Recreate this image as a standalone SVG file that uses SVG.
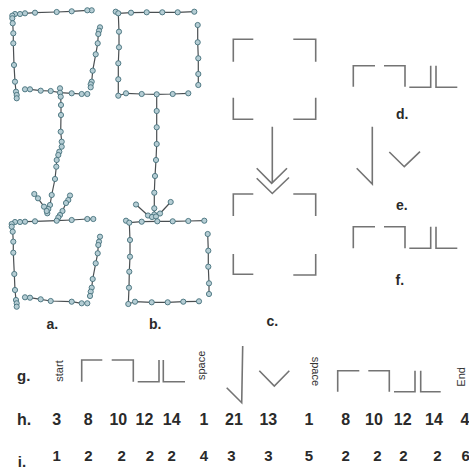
<svg xmlns="http://www.w3.org/2000/svg" width="469" height="470" viewBox="0 0 469 470">
<style>
.ln{fill:none;stroke:#4a4f52;stroke-width:1.2;stroke-linejoin:round}
.p{fill:#b5cdd4;stroke:#45707c;stroke-width:0.9}
.br{fill:none;stroke:#747474;stroke-width:1.6;stroke-linecap:butt}
.lb{font-family:"Liberation Sans",Arial,sans-serif;font-weight:bold;fill:#2a2a2a}
.rt{font-family:"Liberation Sans",Arial,sans-serif;font-size:11px;fill:#333}
</style>
<defs>
<circle id="c" r="2.6" class="p"/>
</defs>
<rect width="469" height="470" fill="#fff"/>

<g id="connectors">
<!-- panel a -->
<polyline class="ln" points="91.7,10.3 87.3,10.3 71.7,11.3 56.7,12 35,12.7 25,13.3 20,14 15,14 12.3,15.7 12.3,18.3 12.7,23.3 13.3,33.3 13.3,43.3 14,65 15,81.7 16,91.7 16.7,95 16.7,98.3"/>
<polyline class="ln" points="100,27.3 99,30.7 98.3,34 97.7,43.3 95.7,54.3 92.7,70.7 91.7,81.7 90.7,84.3 90.7,87.3"/>
<polyline class="ln" points="25,89.3 30,89.3 40.7,90.7 50.7,91 60,92.7 71.7,93.3 81.7,94 87.3,94"/>
<polyline class="ln" points="60,88.3 60,92.7 60.7,96.7 61,105 61,115 60.7,131.7 61.7,141.7 61.7,146.7 59.3,151.7 58.3,155 56.7,160 56.3,166.7 55,179 51.7,195 50,205 48.3,209 47.3,213.3"/>
<polyline class="ln" points="34.3,194 38,198.3 44,206.7 46.7,211 48,213.3"/>
<polyline class="ln" points="70,195.5 68.3,200 66,203 62.5,211 60,215 58.3,217.5 56.7,220.7"/>
<polyline class="ln" points="93.3,219 87.3,219 71.7,220 56.7,220.7 35,221.3 25,221.7 20,222 15,222 11.7,224 11.7,226.7 12.7,231.7 13.3,241.7 13.3,252.7 14.3,274 15,290 16,300 16.7,303.3 16.7,306.7"/>
<polyline class="ln" points="100,236.7 99,241.7 98.3,245 97.7,253.3 95.7,263.3 92.7,279 91.7,287.7 90.7,291.7 90,296"/>
<polyline class="ln" points="25,297.3 30,297.7 40.7,299.3 50.7,301 71.7,301.7 81.7,303.3 87.3,303.3"/>
<!-- panel b -->
<polyline class="ln" points="194.3,11.7 177.7,12.3 162.3,12.3 146.7,12.3 131,12.7 118.3,13.3 119,31.7 119,47.3 118.3,63.3 118.3,79.3 118.3,95.7 126,93.3 141.7,94 156.7,94.3 172.7,94 188.3,93.3"/>
<polyline class="ln" points="115.7,11.7 118.3,13.3"/>
<polyline class="ln" points="197.7,25 197.7,42.3 198.3,58.3 198.3,74 198.3,85"/>
<polyline class="ln" points="156.7,94.3 156.7,111 156.7,127.3 156.7,144 156,160 155,176 154.3,192.7 154.3,208.3 154.3,214.5 156,221.3"/>
<polyline class="ln" points="136,204.5 148,215.5 152,217"/>
<polyline class="ln" points="170.7,202 160,213.5 156,216.5"/>
<polyline class="ln" points="204.3,220.7 188.3,221 172.7,221.3 157.3,221.3 141.7,221.7 129.3,222.7 130,240 130,256.7 129.3,271.7 129,287.7 128.3,304 135,301.7 151.7,302.3 167.7,302.3 183.3,301.7 199,301.3"/>
<polyline class="ln" points="126,220.7 129.3,222.7"/>
<polyline class="ln" points="207.7,234 208.3,250.7 208.3,266.7 209,283.3 209,294"/>
</g>

<g id="nodes-a">
<use href="#c" x="91.7" y="10.3"/><use href="#c" x="87.3" y="10.3"/><use href="#c" x="71.7" y="11.3"/><use href="#c" x="56.7" y="12"/><use href="#c" x="35" y="12.7"/><use href="#c" x="25" y="13.3"/><use href="#c" x="20" y="14"/><use href="#c" x="15" y="14"/><use href="#c" x="12.3" y="15.7"/><use href="#c" x="12.3" y="18.3"/><use href="#c" x="12.7" y="23.3"/><use href="#c" x="13.3" y="33.3"/><use href="#c" x="13.3" y="43.3"/><use href="#c" x="14" y="65"/><use href="#c" x="15" y="81.7"/><use href="#c" x="16" y="91.7"/><use href="#c" x="16.7" y="95"/><use href="#c" x="16.7" y="98.3"/>
<use href="#c" x="100" y="27.3"/><use href="#c" x="99" y="30.7"/><use href="#c" x="98.3" y="34"/><use href="#c" x="97.7" y="43.3"/><use href="#c" x="95.7" y="54.3"/><use href="#c" x="92.7" y="70.7"/><use href="#c" x="91.7" y="81.7"/><use href="#c" x="90.7" y="84.3"/><use href="#c" x="90.7" y="87.3"/>
<use href="#c" x="25" y="89.3"/><use href="#c" x="30" y="89.3"/><use href="#c" x="40.7" y="90.7"/><use href="#c" x="50.7" y="91"/><use href="#c" x="71.7" y="93.3"/><use href="#c" x="81.7" y="94"/><use href="#c" x="87.3" y="94"/>
<use href="#c" x="60" y="88.3"/><use href="#c" x="60" y="92.7"/><use href="#c" x="60.7" y="96.7"/><use href="#c" x="61" y="105"/><use href="#c" x="61" y="115"/><use href="#c" x="60.7" y="131.7"/><use href="#c" x="61.7" y="141.7"/><use href="#c" x="61.7" y="146.7"/><use href="#c" x="59.3" y="151.7"/><use href="#c" x="58.3" y="155"/><use href="#c" x="56.7" y="160"/><use href="#c" x="56.3" y="166.7"/><use href="#c" x="55" y="179"/><use href="#c" x="51.7" y="195"/><use href="#c" x="50" y="205"/><use href="#c" x="48.3" y="209"/><use href="#c" x="47.3" y="213.3"/>
<use href="#c" x="34.3" y="194"/><use href="#c" x="38" y="198.3"/><use href="#c" x="44" y="206.7"/><use href="#c" x="46.7" y="211"/>
<use href="#c" x="70" y="195.5"/><use href="#c" x="68.3" y="200"/><use href="#c" x="66" y="203"/><use href="#c" x="62.5" y="211"/><use href="#c" x="60" y="215"/><use href="#c" x="58.3" y="217.5"/>
<use href="#c" x="93.3" y="219"/><use href="#c" x="87.3" y="219"/><use href="#c" x="71.7" y="220"/><use href="#c" x="56.7" y="220.7"/><use href="#c" x="35" y="221.3"/><use href="#c" x="25" y="221.7"/><use href="#c" x="20" y="222"/><use href="#c" x="15" y="222"/><use href="#c" x="11.7" y="224"/><use href="#c" x="11.7" y="226.7"/><use href="#c" x="12.7" y="231.7"/><use href="#c" x="13.3" y="241.7"/><use href="#c" x="13.3" y="252.7"/><use href="#c" x="14.3" y="274"/><use href="#c" x="15" y="290"/><use href="#c" x="16" y="300"/><use href="#c" x="16.7" y="303.3"/><use href="#c" x="16.7" y="306.7"/>
<use href="#c" x="100" y="236.7"/><use href="#c" x="99" y="241.7"/><use href="#c" x="98.3" y="245"/><use href="#c" x="97.7" y="253.3"/><use href="#c" x="95.7" y="263.3"/><use href="#c" x="92.7" y="279"/><use href="#c" x="91.7" y="287.7"/><use href="#c" x="90.7" y="291.7"/><use href="#c" x="90" y="296"/>
<use href="#c" x="25" y="297.3"/><use href="#c" x="30" y="297.7"/><use href="#c" x="40.7" y="299.3"/><use href="#c" x="50.7" y="301"/><use href="#c" x="71.7" y="301.7"/><use href="#c" x="81.7" y="303.3"/><use href="#c" x="87.3" y="303.3"/>
<text class="lb" x="46.5" y="329" font-size="14">a.</text>
</g>

<g id="nodes-b">
<use href="#c" x="194.3" y="11.7"/><use href="#c" x="177.7" y="12.3"/><use href="#c" x="162.3" y="12.3"/><use href="#c" x="146.7" y="12.3"/><use href="#c" x="131" y="12.7"/><use href="#c" x="115.7" y="11.7"/><use href="#c" x="118.3" y="13.3"/><use href="#c" x="119" y="31.7"/><use href="#c" x="119" y="47.3"/><use href="#c" x="118.3" y="63.3"/><use href="#c" x="118.3" y="79.3"/><use href="#c" x="118.3" y="95.7"/><use href="#c" x="126" y="93.3"/><use href="#c" x="141.7" y="94"/><use href="#c" x="156.7" y="94.3"/><use href="#c" x="172.7" y="94"/><use href="#c" x="188.3" y="93.3"/>
<use href="#c" x="197.7" y="25"/><use href="#c" x="197.7" y="42.3"/><use href="#c" x="198.3" y="58.3"/><use href="#c" x="198.3" y="74"/><use href="#c" x="198.3" y="85"/>
<use href="#c" x="156.7" y="111"/><use href="#c" x="156.7" y="127.3"/><use href="#c" x="156.7" y="144"/><use href="#c" x="156" y="160"/><use href="#c" x="155" y="176"/><use href="#c" x="154.3" y="192.7"/><use href="#c" x="154.3" y="208.3"/><use href="#c" x="154.3" y="214.5"/>
<use href="#c" x="136" y="204.5"/><use href="#c" x="148" y="215.5"/><use href="#c" x="152" y="217"/><use href="#c" x="170.7" y="202"/><use href="#c" x="160" y="213.5"/><use href="#c" x="156" y="216.5"/>
<use href="#c" x="204.3" y="220.7"/><use href="#c" x="188.3" y="221"/><use href="#c" x="172.7" y="221.3"/><use href="#c" x="157.3" y="221.3"/><use href="#c" x="141.7" y="221.7"/><use href="#c" x="126" y="220.7"/><use href="#c" x="129.3" y="222.7"/><use href="#c" x="130" y="240"/><use href="#c" x="130" y="256.7"/><use href="#c" x="129.3" y="271.7"/><use href="#c" x="129" y="287.7"/><use href="#c" x="128.3" y="304"/><use href="#c" x="135" y="301.7"/><use href="#c" x="151.7" y="302.3"/><use href="#c" x="167.7" y="302.3"/><use href="#c" x="183.3" y="301.7"/><use href="#c" x="199" y="301.3"/>
<use href="#c" x="207.7" y="234"/><use href="#c" x="208.3" y="250.7"/><use href="#c" x="208.3" y="266.7"/><use href="#c" x="209" y="283.3"/><use href="#c" x="209" y="294"/>
<text class="lb" x="149" y="329" font-size="14">b.</text>
</g>

<g id="panel-c">
<path class="br" d="M233.3,61.7V39.3H253.3M293.3,39.3H315.7V61.7M233.3,97.7V119.3H253.3M315.7,97.7V119.3H293.3"/>
<path class="br" d="M272.3,126.7V183.3M256.7,168.3L271.7,183.3L287,168.3M256.7,178.3L272.3,193.5L289,177.5"/>
<path class="br" d="M233.3,216V194H253.3M293.3,194H315.7V216M233.3,254V274.3H253.3M315.7,254V275H293.3"/>
<text class="lb" x="266.5" y="326" font-size="14">c.</text>
</g>

<g id="panel-d">
<path class="br" d="M353.3,86.7V65.7H375M384,65.7H405V86.7M409.3,87.3H430.7V65.7M436,65.7V87.3H457.3"/>
<text class="lb" x="396" y="119" font-size="14">d.</text>
</g>

<g id="panel-e">
<path class="br" d="M372.3,126.7V184L356.7,168.3M389.3,152L404.3,166.7L420,151.7"/>
<text class="lb" x="396" y="209.5" font-size="14">e.</text>
</g>

<g id="panel-f">
<path class="br" d="M353.3,248.3V226.7H375M384,226.7H405V248.3M409.3,248.3H430.7V226.7M436,226.7V248.3H457.3"/>
<text class="lb" x="395.5" y="285" font-size="14">f.</text>
</g>

<g id="row-g">
<text class="lb" x="17" y="381" font-size="15">g.</text>
<text class="rt" transform="translate(62.7,381.7) rotate(-90)">start</text>
<path class="br" d="M81.7,381.7V360H102.3M111.7,360H133.3V381.7M137.7,381.7H159V360M163.3,360V381.7H185"/>
<text class="rt" transform="translate(205,380) rotate(-90)">space</text>
<path class="br" d="M226.7,387.7L241.7,402.7L242.7,346M259.3,370.7L274.3,386L289.3,370.7"/>
<text class="rt" transform="translate(311.6,356.7) rotate(90)">space</text>
<path class="br" d="M337.7,391.7V370.7H359.3M368.3,370.7H389.3V391.7M394,391.7H415V370.7M420.7,370.7V391.7H440.7"/>
<text class="rt" font-size="12" transform="translate(465,386.7) rotate(-90)">End</text>
</g>

<g id="row-h" class="lb" font-size="16" text-anchor="middle">
<text x="24" y="425">h.</text>
<text x="56.7" y="425">3</text>
<text x="88.3" y="425">8</text>
<text x="118.3" y="425">10</text>
<text x="144.5" y="425">12</text>
<text x="171.7" y="425">14</text>
<text x="204" y="425">1</text>
<text x="234" y="425">21</text>
<text x="268.3" y="425">13</text>
<text x="309" y="425">1</text>
<text x="345.7" y="425">8</text>
<text x="374" y="425">10</text>
<text x="402.7" y="425">12</text>
<text x="434" y="425">14</text>
<text x="465" y="425">4</text>
</g>

<g id="row-i" class="lb" font-size="15" text-anchor="middle">
<text x="22" y="466.5">i.</text>
<text x="56.7" y="460.7">1</text>
<text x="88.3" y="460.7">2</text>
<text x="121.7" y="460.7">2</text>
<text x="150" y="460.7">2</text>
<text x="171.7" y="460.7">2</text>
<text x="204" y="460.7">4</text>
<text x="231.5" y="460.7">3</text>
<text x="268.3" y="460.7">3</text>
<text x="309" y="460.7">5</text>
<text x="345.7" y="460.7">2</text>
<text x="377.3" y="460.7">2</text>
<text x="403.3" y="460.7">2</text>
<text x="437.3" y="460.7">2</text>
<text x="465.7" y="460.7">6</text>
</g>
</svg>
